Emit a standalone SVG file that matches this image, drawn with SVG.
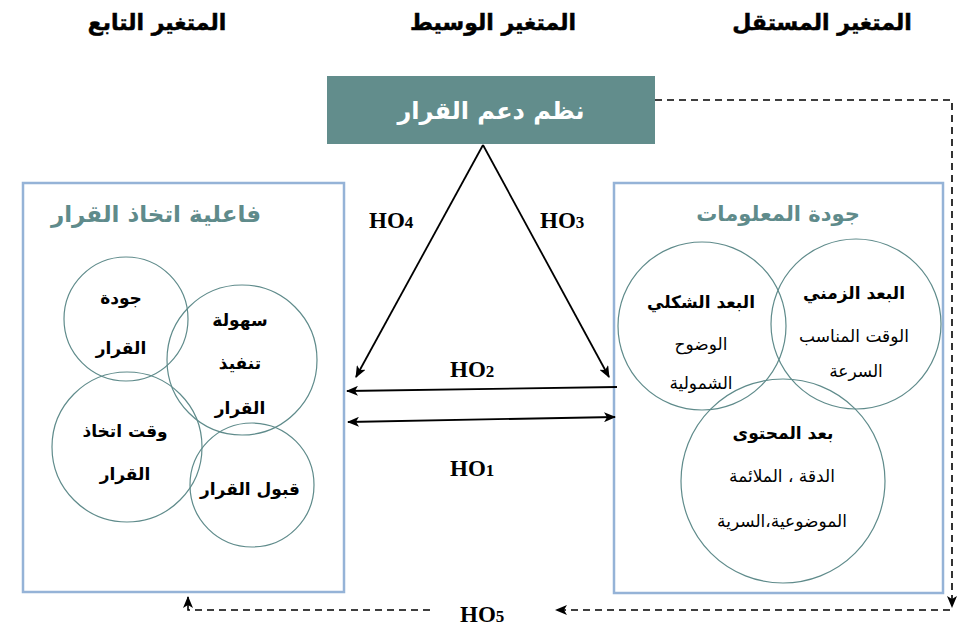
<svg xmlns="http://www.w3.org/2000/svg" width="970" height="626" viewBox="0 0 970 626">
<defs>
<style>
.hdr{font-family:"DejaVu Sans",sans-serif;font-weight:bold;font-size:22px;fill:#000;stroke:#000;stroke-width:0.5;text-anchor:middle;direction:rtl}
.ttl{font-family:"DejaVu Sans",sans-serif;font-weight:bold;font-size:21px;fill:#5f8b8b;text-anchor:middle;direction:rtl}
.ct{font-family:"DejaVu Sans",sans-serif;font-weight:bold;font-size:17px;fill:#000;text-anchor:middle;direction:rtl}
.cr{font-family:"DejaVu Sans",sans-serif;font-size:17px;fill:#000;text-anchor:middle;direction:rtl}
.ho{font-family:"Liberation Serif",serif;font-weight:bold;font-size:23px;fill:#000}
.box{fill:none;stroke:#95b3d7;stroke-width:2.5}
.cir{fill:none;stroke:#5f8b8b;stroke-width:1.2}
.ln{stroke:#000;stroke-width:1.8;fill:none}
.dash{stroke:#000;stroke-width:1.6;fill:none;stroke-dasharray:7,5}
</style>
<marker id="ah" viewBox="0 0 12 10" refX="11" refY="5" markerWidth="12" markerHeight="10" markerUnits="userSpaceOnUse" orient="auto-start-reverse">
<path d="M0,0 L12,5 L0,10 L3,5 z" fill="#000"/>
</marker>
</defs>
<rect width="970" height="626" fill="#fff"/>

<g id="headers">
<text class="hdr" x="157" y="30">المتغير التابع</text>
<text class="hdr" x="493" y="30">المتغير الوسيط</text>
<text class="hdr" x="822" y="30">المتغير المستقل</text>
</g>

<g id="dss">
<rect x="327" y="76" width="328" height="68" fill="#628d8c"/>
<text x="491" y="119" font-family="DejaVu Sans, sans-serif" font-weight="bold" font-size="24" fill="#fff" text-anchor="middle" direction="rtl">نظم دعم القرار</text>
</g>

<g id="effectiveness">
<rect class="box" x="23" y="183" width="321" height="409"/>
<text class="ttl" x="156" y="222" style="font-size:23px;letter-spacing:1px">فاعلية اتخاذ القرار</text>
<g id="c-quality">
<circle class="cir" cx="126" cy="319" r="62"/>
<text class="ct" x="121" y="304">جودة</text>
<text class="ct" x="121" y="354">القرار</text>
</g>
<g id="c-ease">
<circle class="cir" cx="242" cy="360" r="75"/>
<text class="ct" x="240" y="326">سهولة</text>
<text class="ct" x="240" y="369">تنفيذ</text>
<text class="ct" x="240" y="414">القرار</text>
</g>
<g id="c-time">
<circle class="cir" cx="127" cy="447" r="75"/>
<text class="ct" x="125" y="437">وقت اتخاذ</text>
<text class="ct" x="125" y="480">القرار</text>
</g>
<g id="c-accept">
<circle class="cir" cx="252" cy="485" r="62"/>
<text class="ct" x="250" y="495">قبول القرار</text>
</g>
</g>

<g id="infoquality">
<rect class="box" x="614" y="183" width="329" height="410"/>
<text class="ttl" x="778" y="221">جودة المعلومات</text>
<g id="c-formal">
<circle class="cir" cx="702" cy="326" r="84"/>
<text class="ct" x="701" y="308">البعد الشكلي</text>
<text class="cr" x="701" y="350">الوضوح</text>
<text class="cr" x="701" y="389">الشمولية</text>
</g>
<g id="c-temporal">
<circle class="cir" cx="856" cy="324" r="85"/>
<text class="ct" x="854" y="299">البعد الزمني</text>
<text class="cr" x="854" y="342">الوقت المناسب</text>
<text class="cr" x="856" y="377">السرعة</text>
</g>
<g id="c-content">
<circle class="cir" cx="783" cy="481" r="102"/>
<text class="ct" x="783" y="439">بعد المحتوى</text>
<text class="cr" x="782" y="482">الدقة ، الملائمة</text>
<text class="cr" x="782" y="527">الموضوعية،السرية</text>
</g>
</g>

<g id="connectors">
<line class="ln" x1="483" y1="145" x2="356" y2="377" marker-end="url(#ah)"/>
<line class="ln" x1="483" y1="145" x2="609" y2="377" marker-end="url(#ah)"/>
<line class="ln" x1="617" y1="387" x2="347" y2="391" marker-end="url(#ah)"/>
<line class="ln" x1="348" y1="422" x2="615" y2="417" marker-start="url(#ah)" marker-end="url(#ah)"/>
<polyline class="dash" points="655,100 952,100 952,607" marker-end="url(#ah)"/>
<line class="dash" x1="950" y1="610" x2="556" y2="610" marker-end="url(#ah)"/>
<polyline class="dash" points="430,610 188,610 188,597" marker-end="url(#ah)"/>
</g>

<g id="labels">
<text class="ho" x="369" y="228">HO<tspan font-size="17">4</tspan></text>
<text class="ho" x="540" y="228">HO<tspan font-size="17">3</tspan></text>
<text class="ho" x="450" y="377">HO<tspan font-size="17">2</tspan></text>
<text class="ho" x="450" y="476">HO<tspan font-size="17">1</tspan></text>
<text class="ho" x="460" y="622">HO<tspan font-size="17">5</tspan></text>
</g>
</svg>
